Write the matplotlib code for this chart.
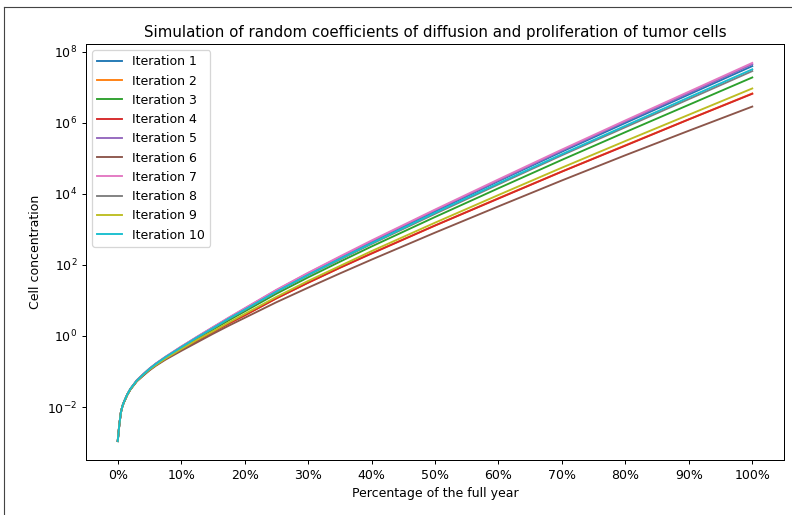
import numpy as np
import matplotlib
matplotlib.use("Agg")
import matplotlib.pyplot as plt
from matplotlib.ticker import PercentFormatter
from matplotlib.lines import Line2D

# time axis, percentage of the full year
pct = [0, 0.25, 0.5, 0.75, 1, 1.5, 2, 3, 4, 5, 6, 7.5, 10, 12.5, 15, 17.5, 20,
       25, 30, 35, 40, 50, 60, 70, 80, 90, 100]

# log10 of the cell concentration for each iteration
iter1 = [-2.96, -2.50, -2.15, -1.97, -1.85, -1.65, -1.49, -1.25, -1.08, -0.92, -0.78, -0.60, -0.31, -0.03,
         0.24, 0.50, 0.76, 1.28, 1.75, 2.21, 2.65, 3.51, 4.36, 5.19, 6.00, 6.80, 7.60]
iter2 = [-2.96, -2.50, -2.15, -1.97, -1.86, -1.66, -1.50, -1.27, -1.11, -0.95, -0.82, -0.65, -0.38, -0.13,
         0.11, 0.35, 0.58, 1.06, 1.50, 1.92, 2.33, 3.11, 3.88, 4.63, 5.37, 6.10, 6.83]
iter3 = [-2.96, -2.50, -2.15, -1.97, -1.85, -1.65, -1.50, -1.26, -1.09, -0.94, -0.80, -0.62, -0.34, -0.07,
         0.18, 0.44, 0.69, 1.19, 1.65, 2.09, 2.52, 3.35, 4.16, 4.96, 5.74, 6.51, 7.28]
iter4 = [-2.96, -2.50, -2.15, -1.97, -1.86, -1.66, -1.50, -1.27, -1.11, -0.96, -0.82, -0.65, -0.39, -0.13,
         0.11, 0.35, 0.58, 1.06, 1.50, 1.92, 2.32, 3.11, 3.87, 4.63, 5.36, 6.10, 6.82]
iter5 = [-2.96, -2.50, -2.15, -1.97, -1.85, -1.65, -1.49, -1.25, -1.08, -0.92, -0.78, -0.59, -0.30, -0.03,
         0.24, 0.51, 0.77, 1.29, 1.77, 2.22, 2.67, 3.54, 4.38, 5.22, 6.04, 6.84, 7.65]
iter6 = [-2.96, -2.50, -2.15, -1.97, -1.86, -1.66, -1.51, -1.28, -1.12, -0.97, -0.84, -0.67, -0.42, -0.18,
         0.06, 0.29, 0.51, 0.95, 1.36, 1.76, 2.15, 2.91, 3.65, 4.38, 5.09, 5.78, 6.46]
iter7 = [-2.96, -2.50, -2.15, -1.97, -1.85, -1.65, -1.49, -1.25, -1.08, -0.92, -0.78, -0.59, -0.30, -0.02,
         0.25, 0.52, 0.78, 1.30, 1.78, 2.24, 2.69, 3.56, 4.41, 5.25, 6.07, 6.88, 7.69]
iter8 = [-2.96, -2.50, -2.15, -1.97, -1.85, -1.65, -1.49, -1.26, -1.09, -0.93, -0.79, -0.61, -0.32, -0.05,
         0.21, 0.48, 0.73, 1.24, 1.71, 2.15, 2.59, 3.44, 4.27, 5.09, 5.88, 6.67, 7.46]
iter9 = [-2.96, -2.50, -2.15, -1.97, -1.86, -1.66, -1.50, -1.27, -1.10, -0.95, -0.82, -0.64, -0.37, -0.11,
         0.13, 0.38, 0.62, 1.10, 1.55, 1.97, 2.39, 3.19, 3.97, 4.74, 5.49, 6.23, 6.97]
iter10 = [-2.96, -2.50, -2.15, -1.97, -1.85, -1.65, -1.49, -1.26, -1.09, -0.93, -0.79, -0.60, -0.32, -0.04,
          0.22, 0.49, 0.74, 1.25, 1.72, 2.17, 2.61, 3.47, 4.30, 5.12, 5.92, 6.72, 7.51]

iterations = [iter1, iter2, iter3, iter4, iter5, iter6, iter7, iter8, iter9, iter10]
labels = ["Iteration %d" % (i + 1) for i in range(len(iterations))]

# screenshot is a slightly scaled-down notebook figure, hence dpi 90
fig = plt.figure(figsize=(792 / 90, 515 / 90), dpi=90)
ax = fig.add_axes([86 / 792, 1 - 460 / 515, (784 - 86) / 792, (460 - 44) / 515])

for vals, lab in zip(iterations, labels):
    ax.plot(pct, 10 ** np.array(vals), label=lab)

ax.set_yscale("log")
ax.set_xticks(range(0, 101, 10))
ax.xaxis.set_major_formatter(PercentFormatter(xmax=100, decimals=0))
ax.set_title("Simulation of random coefficients of diffusion and proliferation of tumor cells")
ax.set_xlabel("Percentage of the full year")
ax.set_ylabel("Cell concentration")
ax.legend(loc="upper left")

# frame of the notebook output cell
fig.add_artist(Line2D([4 / 792, 1], [1 - 7 / 515] * 2, transform=fig.transFigure, color="#444444", lw=0.9))
fig.add_artist(Line2D([4 / 792] * 2, [0, 1 - 7 / 515], transform=fig.transFigure, color="#444444", lw=0.9))

fig.savefig("out.png", dpi=90)
